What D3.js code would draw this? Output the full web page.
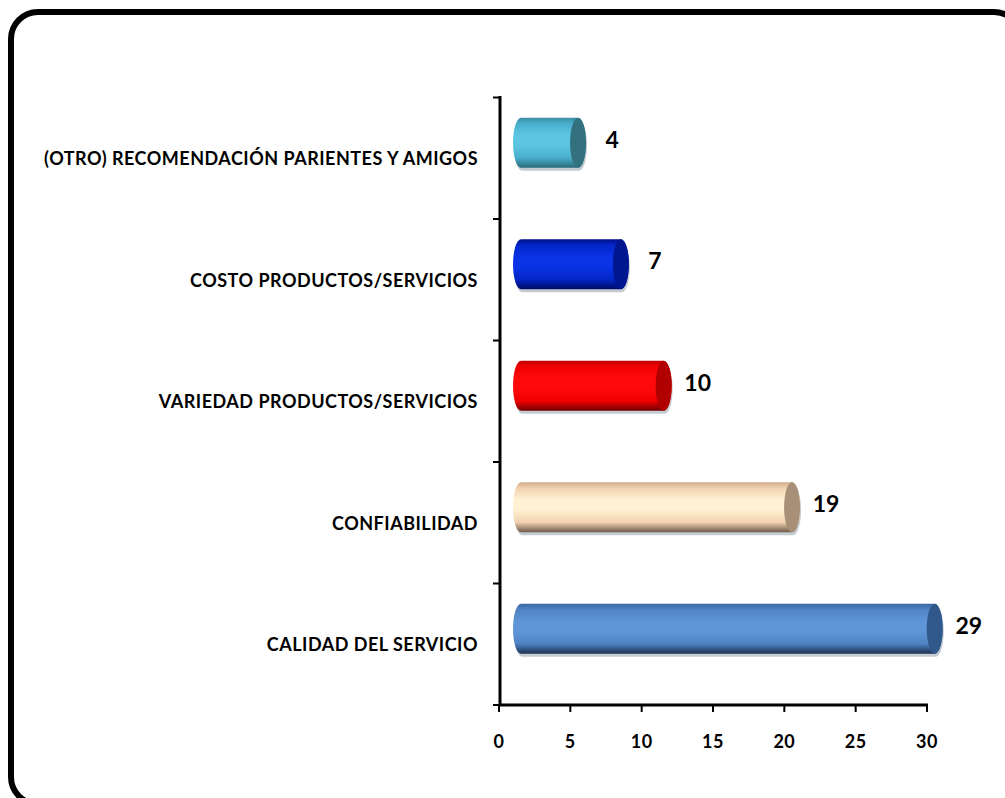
<!DOCTYPE html>
<html>
<head>
<meta charset="utf-8">
<script src="https://cdn.jsdelivr.net/npm/d3@7"></script>
<style>
  html, body { margin: 0; padding: 0; background: #fff; }
  svg { display: block; }
  text { font-family: Lato, "Open Sans", sans-serif; font-weight: 700; fill: #000; }
</style>
</head>
<body>
<svg id="chart" width="1005" height="798"></svg>
<script>
// Categories, top to bottom
const categories = [
  "(OTRO) RECOMENDACIÓN PARIENTES Y AMIGOS",
  "COSTO PRODUCTOS/SERVICIOS",
  "VARIEDAD PRODUCTOS/SERVICIOS",
  "CONFIABILIDAD",
  "CALIDAD DEL SERVICIO"
];
const values = [4, 7, 10, 19, 29];
const xTicks = [0, 5, 10, 15, 20, 25, 30];

// Cylinder shading per bar: [top, light, mid, bottom, cap]
const palettes = [
  ["#3a8ea4", "#5cc6e2", "#49aecb", "#2a6a7a", "#33717f"],
  ["#000f8c", "#0a33e6", "#0226c8", "#000b66", "#001590"],
  ["#c00000", "#ff0a0a", "#f00000", "#700000", "#b00000"],
  ["#d2aa8c", "#fff1d2", "#f2d2b0", "#6e5a4a", "#a89078"],
  ["#3c68a4", "#5e96d8", "#4f83c4", "#1c3052", "#31588a"]
];

const svg = d3.select("#chart");
const defs = svg.append("defs");

// Frame
svg.append("rect")
  .attr("x", 11).attr("y", 12)
  .attr("width", 1010).attr("height", 792)
  .attr("rx", 27).attr("ry", 27)
  .attr("fill", "#fff").attr("stroke", "#000").attr("stroke-width", 6);

const x = d3.scaleLinear().domain([0, 30]).range([499, 927]);
const y = d3.scaleBand().domain(categories).range([97.5, 705]).padding(0);

// 3D depth offset of the bars relative to the axes
const depthX = 22, depthY = -15.5;
const barH = 50, rx = 8;

// Bars
const bars = svg.append("g");
categories.forEach((c, i) => {
  const p = palettes[i];
  const gid = "grad" + i;
  const g = defs.append("linearGradient").attr("id", gid)
    .attr("x1", 0).attr("y1", 0).attr("x2", 0).attr("y2", 1);
  [[0, p[0]], [0.12, p[2]], [0.35, p[1]], [0.55, p[1]], [0.8, p[2]], [1, p[3]]]
    .forEach(([o, col]) => g.append("stop").attr("offset", o).attr("stop-color", col));

  const cy = y(c) + y.bandwidth() / 2 + depthY;
  const x0 = x(0) + depthX;
  const x1 = x(values[i]) + depthX;
  const t = cy - barH / 2, b = cy + barH / 2;
  const body = `M${x0},${t} L${x1},${t} A${rx},${barH / 2} 0 0 1 ${x1},${b} L${x0},${b} A${rx},${barH / 2} 0 0 1 ${x0},${t} Z`;

  // soft shadow under the cylinder
  bars.append("path").attr("d", body)
    .attr("transform", "translate(1,3)")
    .attr("fill", "#7f8f99").attr("opacity", 0.45);
  bars.append("path").attr("d", body).attr("fill", `url(#${gid})`);
  bars.append("ellipse")
    .attr("cx", x1).attr("cy", cy).attr("rx", rx).attr("ry", barH / 2)
    .attr("fill", p[4]);

  // value label
  svg.append("text")
    .attr("x", x1 + 34).attr("y", cy + 5)
    .attr("text-anchor", "middle")
    .attr("font-size", 23)
    .text(values[i]);
});

// Axes
const axisG = svg.append("g");
axisG.append("line")
  .attr("x1", x(0) + 1).attr("x2", x(0) + 1)
  .attr("y1", 96).attr("y2", 706)
  .attr("stroke", "#000").attr("stroke-width", 3);
axisG.append("line")
  .attr("x1", x(0)).attr("x2", x(30) + 1)
  .attr("y1", 705).attr("y2", 705)
  .attr("stroke", "#000").attr("stroke-width", 3);

// category boundary ticks on the vertical axis
const bounds = categories.map(c => y(c)).concat([y.range()[1]]);
axisG.selectAll(".ytick").data(bounds).join("line")
  .attr("x1", x(0) - 6).attr("x2", x(0) + 1)
  .attr("y1", d => d).attr("y2", d => d)
  .attr("stroke", "#000").attr("stroke-width", 2);

// value ticks on the horizontal axis
axisG.selectAll(".xtick").data(xTicks).join("line")
  .attr("x1", d => x(d)).attr("x2", d => x(d))
  .attr("y1", 705).attr("y2", 712)
  .attr("stroke", "#000").attr("stroke-width", 2);

axisG.selectAll(".xlab").data(xTicks).join("text")
  .attr("x", d => x(d)).attr("y", 748)
  .attr("text-anchor", "middle")
  .attr("font-size", 18)
  .attr("letter-spacing", 0.5)
  .text(d => d);

// Category labels
svg.selectAll(".clab").data(categories).join("text")
  .attr("x", 478)
  .attr("y", d => y(d) + y.bandwidth() / 2 + 7)
  .attr("text-anchor", "end")
  .attr("font-size", 18)
  .attr("letter-spacing", 0.5)
  .text(d => d);
</script>
</body>
</html>
